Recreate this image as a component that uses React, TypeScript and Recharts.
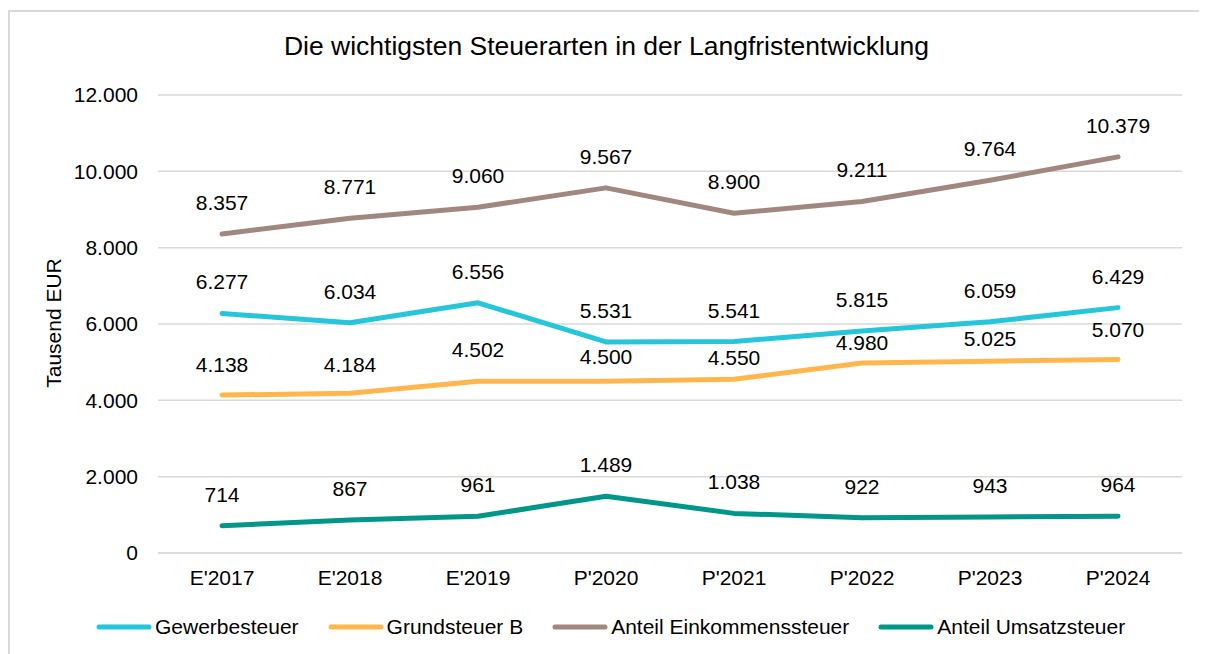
import React from 'react';
import { LineChart, Line, XAxis, YAxis, CartesianGrid, Legend, LabelList } from 'recharts';

const categories = ["E'2017", "E'2018", "E'2019", "P'2020", "P'2021", "P'2022", "P'2023", "P'2024"];
const gewerbesteuer = [6277, 6034, 6556, 5531, 5541, 5815, 6059, 6429];
const grundsteuerB = [4138, 4184, 4502, 4500, 4550, 4980, 5025, 5070];
const einkommensteuer = [8357, 8771, 9060, 9567, 8900, 9211, 9764, 10379];
const umsatzsteuer = [714, 867, 961, 1489, 1038, 922, 943, 964];
const yTicks = [0, 2000, 4000, 6000, 8000, 10000, 12000];

// label distance (px) of the label baseline above the point, per point (style, not data)
const defaultLabelGap = [24, 24, 24, 24, 24, 24, 24, 24];
const grundLabelGap = [23, 21, 24, 17, 14, 13, 15, 22];

const series = [
  { key: 'gew', name: 'Gewerbesteuer', color: '#26C6DA', values: gewerbesteuer, gaps: defaultLabelGap },
  { key: 'grund', name: 'Grundsteuer B', color: '#FFB74D', values: grundsteuerB, gaps: grundLabelGap },
  { key: 'ek', name: 'Anteil Einkommenssteuer', color: '#A1887F', values: einkommensteuer, gaps: defaultLabelGap },
  { key: 'ust', name: 'Anteil Umsatzsteuer', color: '#009688', values: umsatzsteuer, gaps: defaultLabelGap },
];

const data = categories.map((c, i) => {
  const row: any = { cat: c };
  series.forEach((s) => { row[s.key] = s.values[i]; });
  return row;
});

const fmt = (v: any) => String(Math.round(Number(v))).replace(/\B(?=(\d{3})+(?!\d))/g, '.');

const FONT = '"Liberation Sans", Arial, sans-serif';

const makeLabel = (gaps: number[]) => (props: any) => {
  const { x, y, value, index } = props;
  if (x == null || y == null) return null;
  const gap = gaps[index] ?? 24;
  return (
    <text x={x} y={y - gap} textAnchor="middle" fill="#000" fontSize={21} fontFamily={FONT}>
      {fmt(value)}
    </text>
  );
};

const LegendContent = () => (
  <div style={{ display: 'flex', alignItems: 'center', height: 30, paddingLeft: 86, fontFamily: FONT, fontSize: 21, color: '#000' }}>
    {series.map((s, i) => (
      <div key={s.key} style={{ display: 'flex', alignItems: 'center', marginRight: i < series.length - 1 ? 29 : 0 }}>
        <svg width={56} height={10} style={{ display: 'block' }}>
          <line x1={3} y1={5} x2={53} y2={5} stroke={s.color} strokeWidth={5} strokeLinecap="round" />
        </svg>
        <span style={{ marginLeft: 3, whiteSpace: 'nowrap' }}>{s.name}</span>
      </div>
    ))}
  </div>
);

export default function App() {
  return (
    <div style={{ position: 'relative', width: 1197, height: 642, marginTop: 2, borderTop: '2px solid #d9d9d9', borderLeft: '2px solid #d9d9d9', fontFamily: FONT }}>
      <style>{`html, body { overflow: hidden; }`}</style>
      <div style={{ position: 'absolute', left: 0, top: 19, width: 1193, textAlign: 'center', fontSize: 26.5, color: '#000', zIndex: 1 }}>
        Die wichtigsten Steuerarten in der Langfristentwicklung
      </div>
      <div style={{ position: 'absolute', left: 44 - 100, top: 311 - 12, width: 200, height: 24, lineHeight: '24px', textAlign: 'center', fontSize: 21, color: '#000', transform: 'rotate(-90deg)', zIndex: 1 }}>
        Tausend EUR
      </div>
      <LineChart width={1193} height={642} data={data} margin={{ top: 83, right: 21, bottom: 12, left: 58 }}>
        <CartesianGrid vertical={false} stroke="#d9d9d9" strokeWidth={1.5} />
        <XAxis dataKey="cat" axisLine={{ stroke: '#d9d9d9', strokeWidth: 1.5 }} tickLine={false} tickSize={0} tickMargin={17} height={59}
          padding={{ left: 64, right: 64 }}
          tick={{ fill: '#000', fontSize: 21, fontFamily: FONT }} interval={0} />
        <YAxis domain={[0, 12000]} ticks={yTicks} axisLine={false} tickLine={false} tickSize={0} tickMargin={20} width={90}
          tickFormatter={fmt} tick={{ fill: '#000', fontSize: 21, fontFamily: FONT }} />
        <Legend verticalAlign="bottom" content={<LegendContent />} wrapperStyle={{ left: 0, width: 1193 }} />
        {series.map((s) => (
          <Line key={s.key} type="linear" dataKey={s.key} name={s.name} stroke={s.color} strokeWidth={5} strokeLinecap="round" strokeLinejoin="round" dot={false} activeDot={false} isAnimationActive={false}>
            <LabelList dataKey={s.key} content={makeLabel(s.gaps)} />
          </Line>
        ))}
      </LineChart>
    </div>
  );
}
